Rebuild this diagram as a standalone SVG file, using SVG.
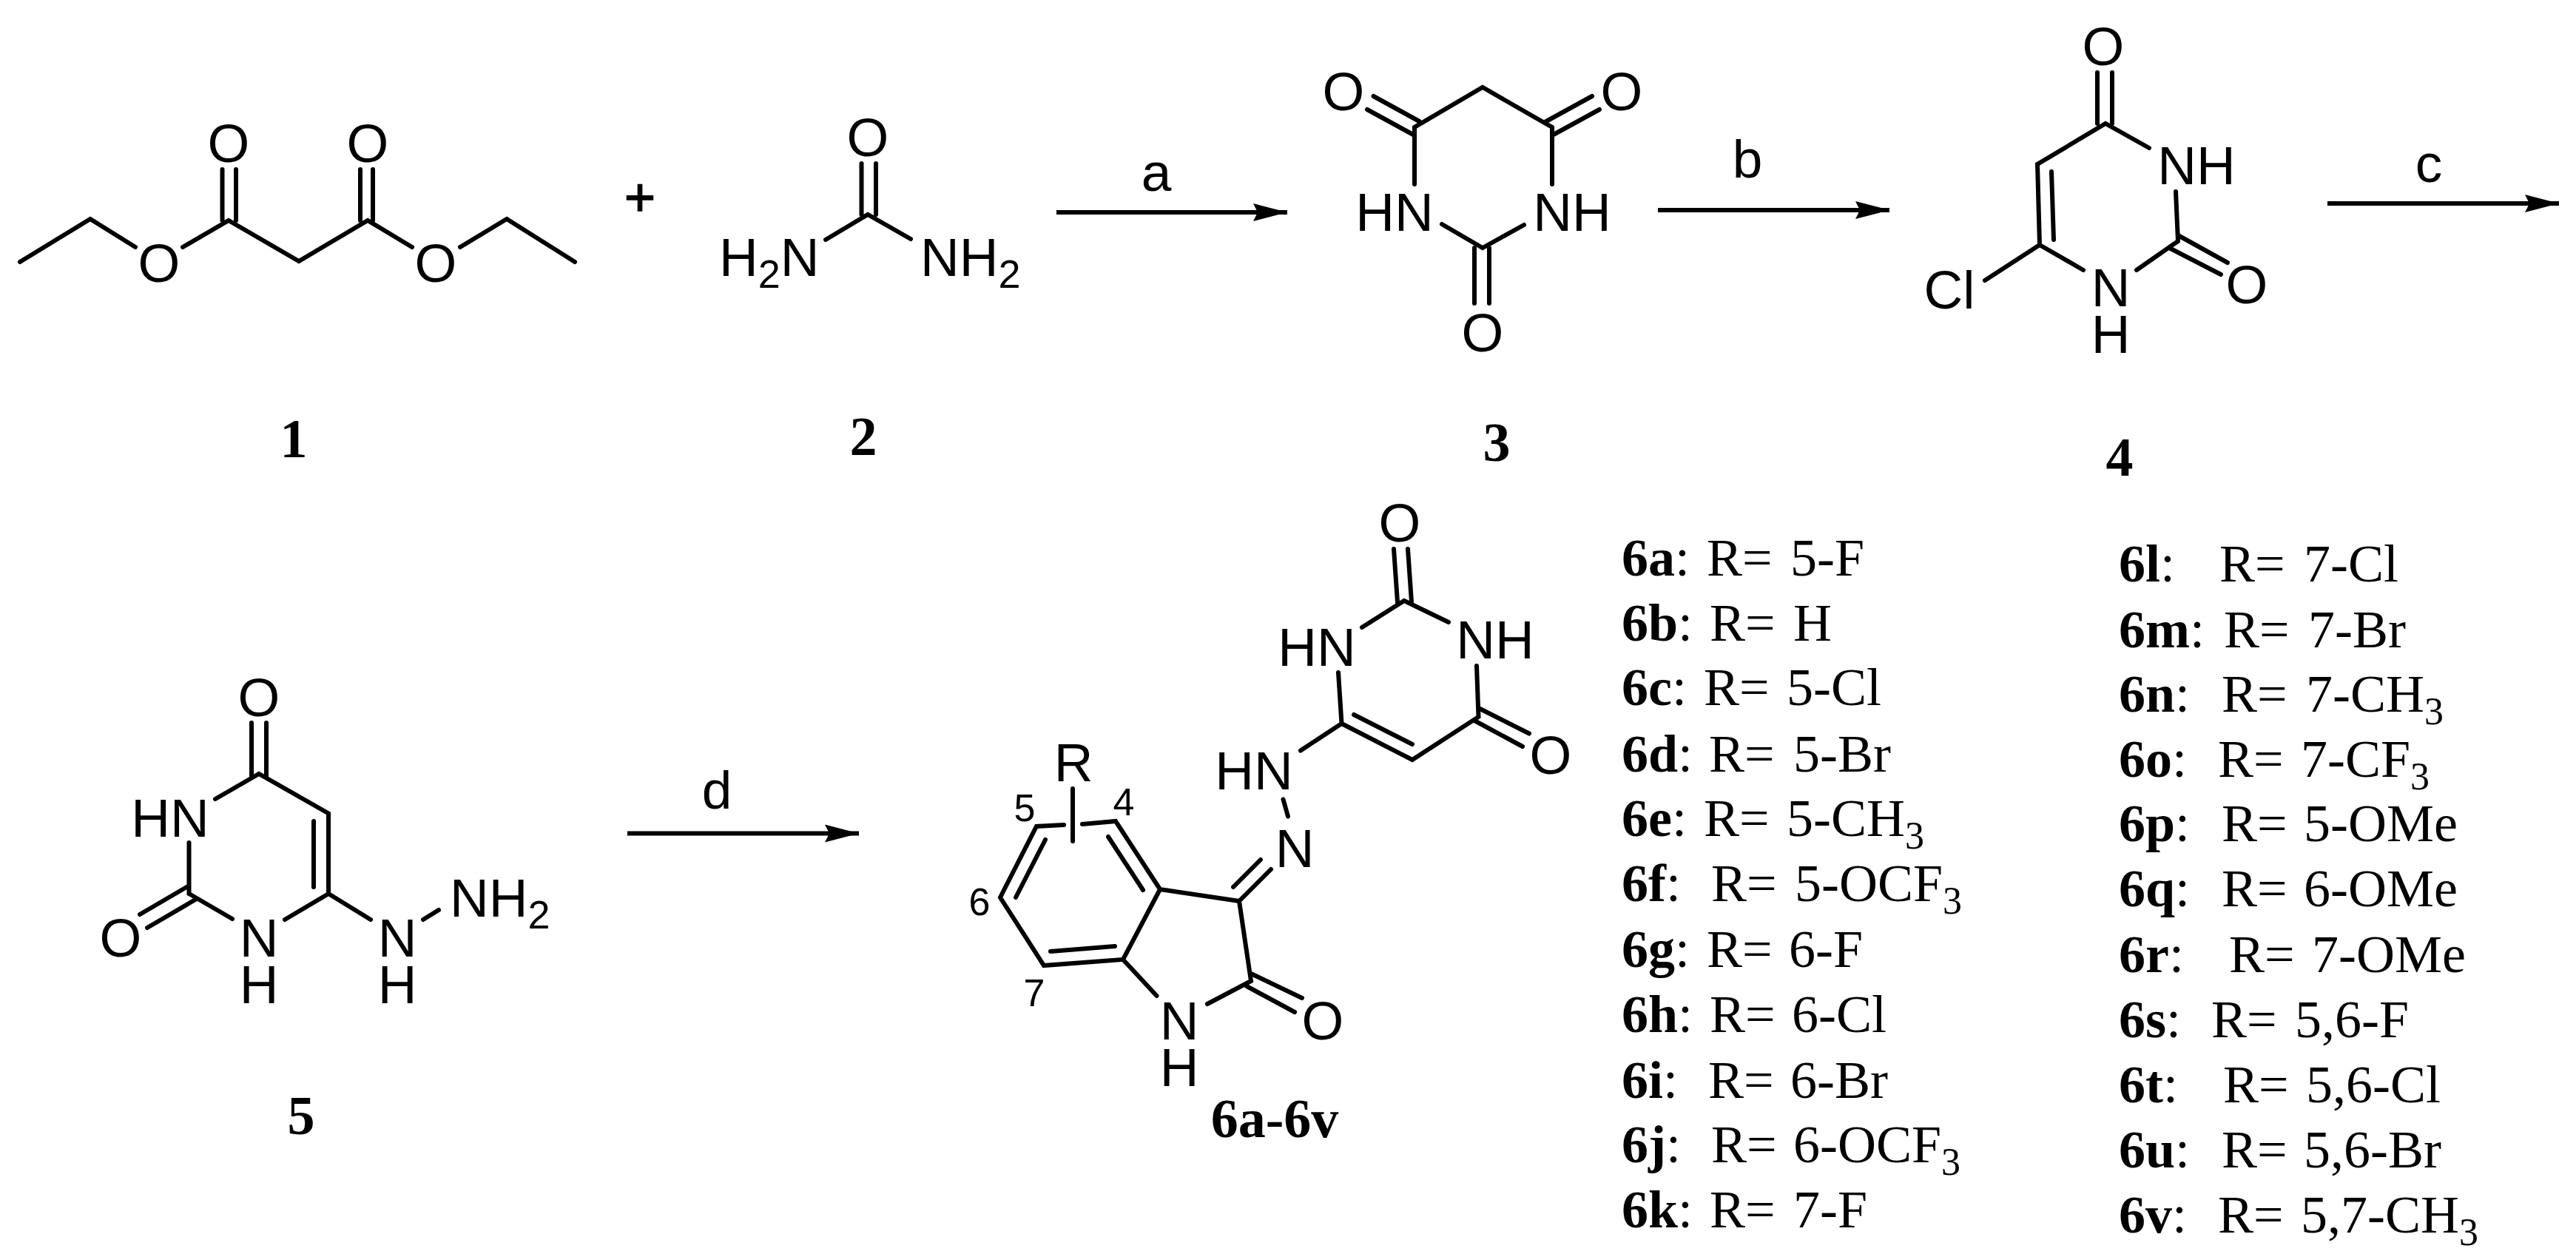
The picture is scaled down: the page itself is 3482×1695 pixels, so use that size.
<svg xmlns="http://www.w3.org/2000/svg" width="3482" height="1695" viewBox="0 0 3482 1695">
<style>
.b{fill:none;stroke:#000;stroke-width:6;stroke-linecap:round;stroke-linejoin:miter}
.ar{fill:none;stroke:#000;stroke-width:6}
text{fill:#000}
.t{font-family:"Liberation Sans",Arial,sans-serif;font-size:73px}
.m{text-anchor:middle}
.s{font-size:54px}
.n{font-family:"Liberation Sans",Arial,sans-serif;font-size:52px;text-anchor:middle}
.l{font-family:"Liberation Serif","Times New Roman",serif;font-size:74px;font-weight:bold;text-anchor:middle}
.r{font-family:"Liberation Serif","Times New Roman",serif;font-size:72px}
.r .k{font-weight:bold}
.r .u{font-size:52px}
</style>
<defs>
<marker id="head" markerUnits="userSpaceOnUse" markerWidth="50" markerHeight="30" refX="46" refY="15" orient="auto">
<polygon points="0,3 46,15 0,27 6,15" fill="#000"/>
</marker>
</defs>
<rect width="3482" height="1695" fill="#fff"/>

<g id="compound-1">
<path class="b" d="M27,354L122,296L183,334M247,334L309,298L404,353L497,298L557,334M622,334L685,296L777,354"/>
<path class="b" d="M300.5,229V298M319,229V298M487,229V298M504,229V298"/>
<text class="t m" x="309" y="219">O</text>
<text class="t m" x="497" y="219">O</text>
<text class="t m" x="215" y="381">O</text>
<text class="t m" x="589" y="381">O</text>
<text class="l" x="397" y="618">1</text>
</g>

<g id="plus">
<text x="865" y="291" font-family="Liberation Sans, sans-serif" font-size="72" text-anchor="middle" stroke="#000" stroke-width="1.5">+</text>
</g>

<g id="compound-2">
<path class="b" d="M1116,324L1173,290L1231,323M1164.5,221V290M1184,221V290"/>
<text class="t m" x="1173" y="211">O</text>
<text class="t" x="972" y="373">H<tspan class="s" dy="16">2</tspan><tspan dy="-16">N</tspan></text>
<text class="t" x="1244" y="373">NH<tspan class="s" dy="16">2</tspan></text>
<text class="l" x="1167" y="615">2</text>
</g>

<g id="compound-3">
<path class="b" d="M1912,249V172L2004,118L2098,172V249M1949,303L2004,335L2060,304"/>
<path class="b" d="M1856.5,130L1918.5,164M1848,148L1912,183M2152,130L2090,164M2162,148L2098,183M1993,335V410M2013,335V410"/>
<text class="t m" x="1816" y="149">O</text>
<text class="t m" x="2192" y="149">O</text>
<text class="t m" x="2004" y="475">O</text>
<text class="t m" x="1885" y="312">HN</text>
<text class="t m" x="2125" y="312">NH</text>
<text class="l" x="2023" y="623">3</text>
</g>

<g id="compound-4">
<path class="b" d="M2905,200L2846,167L2754,222L2757,331L2816,365M2888,365L2944,326L2941,259M2757,331L2683,379"/>
<path class="b" d="M2835,98V167M2855,98V167M2773,232L2776,324M2944,318L3011,355M2932,335L3002,371"/>
<text class="t m" x="2843" y="88">O</text>
<text class="t m" x="3037" y="410">O</text>
<text class="t m" x="2969" y="249">NH</text>
<text class="t m"><tspan x="2853" y="414">N</tspan><tspan x="2853" y="477">H</tspan></text>
<text class="t m" x="2635" y="417">Cl</text>
<text class="l" x="2865" y="643">4</text>
</g>

<g id="compound-5">
<path class="b" d="M291,1080L350,1046L444,1099.5V1208L385,1243M314,1242L255.5,1208V1139M444,1208L501,1243M572,1243L593,1230"/>
<path class="b" d="M340,977V1050M360,977V1050M424,1110V1199M254,1198L189,1236M264,1216L199,1254"/>
<text class="t m" x="350" y="968">O</text>
<text class="t m" x="163" y="1293">O</text>
<text class="t m" x="230" y="1131">HN</text>
<text class="t m"><tspan x="350" y="1293">N</tspan><tspan x="350" y="1356">H</tspan></text>
<text class="t m"><tspan x="537" y="1293">N</tspan><tspan x="537" y="1356">H</tspan></text>
<text class="t" x="608" y="1239">NH<tspan class="s" dy="16">2</tspan></text>
<text class="l" x="407" y="1533">5</text>
</g>

<g id="compound-6">
<path class="b" d="M1841,848L1898,812L1958,841M1809,909L1813.5,978L1909,1027L1998.5,969L1996,900M1813.5,978L1758,1014.5M1734.5,1080.5L1741,1103.5"/>
<path class="b" d="M1884,742L1889,814M1903,742L1908,814M1830,966L1909,1006M1998.5,957L2067,991.5M1993,974L2058,1009M1675,1218L1718,1175M1667,1199L1704,1162"/>
<path class="b" d="M1675,1218L1568,1202L1518,1297L1411,1305L1352,1213L1401,1117L1438,1115M1463,1114L1508,1110L1568,1202M1675,1218L1691,1326L1632,1357M1563.5,1346L1518,1297"/>
<path class="b" d="M1691,1316L1760,1349M1685,1333L1750,1368M1545,1203L1498,1131M1413,1135L1373,1213M1420,1286L1507,1279M1450,1066V1137"/>
<text class="t m" x="1892" y="732">O</text>
<text class="t m" x="2096" y="1046">O</text>
<text class="t m" x="1788" y="1405">O</text>
<text class="t m" x="1780" y="900">HN</text>
<text class="t m" x="2021" y="890">NH</text>
<text class="t m" x="1695" y="1067">HN</text>
<text class="t m" x="1750" y="1172">N</text>
<text class="t m"><tspan x="1594" y="1405">N</tspan><tspan x="1594" y="1468">H</tspan></text>
<text class="t m" x="1451" y="1056">R</text>
<text class="n" x="1385" y="1110">5</text>
<text class="n" x="1519" y="1102">4</text>
<text class="n" x="1324" y="1237">6</text>
<text class="n" x="1398" y="1360">7</text>
<text class="l" x="1723" y="1537">6a-6v</text>
</g>

<g id="connectors">
<path class="ar" d="M1428,287H1740" marker-end="url(#head)"/>
<path class="ar" d="M2241,284H2554" marker-end="url(#head)"/>
<path class="ar" d="M3146,275H3459" marker-end="url(#head)"/>
<path class="ar" d="M848,1126.5H1161" marker-end="url(#head)"/>
<text class="t m" x="1563" y="258">a</text>
<text class="t m" x="2362" y="240">b</text>
<text class="t m" x="3283" y="246">c</text>
<text class="t m" x="969" y="1093">d</text>
</g>

<g id="legend-left">
<text class="r" x="2192" y="778"><tspan class="k">6a</tspan>: <tspan x="2307">R= </tspan><tspan x="2420">5-F</tspan></text>
<text class="r" x="2192" y="866"><tspan class="k">6b</tspan>: <tspan x="2311">R= </tspan><tspan x="2424">H</tspan></text>
<text class="r" x="2192" y="953"><tspan class="k">6c</tspan>: <tspan x="2303">R= </tspan><tspan x="2415">5-Cl</tspan></text>
<text class="r" x="2192" y="1043"><tspan class="k">6d</tspan>: <tspan x="2310">R= </tspan><tspan x="2424">5-Br</tspan></text>
<text class="r" x="2192" y="1130"><tspan class="k">6e</tspan>: <tspan x="2303">R= </tspan><tspan x="2415">5-CH</tspan><tspan class="u" dy="17">3</tspan></text>
<text class="r" x="2192" y="1218"><tspan class="k">6f</tspan>: <tspan x="2313">R= </tspan><tspan x="2426">5-OCF</tspan><tspan class="u" dy="17">3</tspan></text>
<text class="r" x="2192" y="1307"><tspan class="k">6g</tspan>: <tspan x="2307">R= </tspan><tspan x="2418">6-F</tspan></text>
<text class="r" x="2192" y="1395"><tspan class="k">6h</tspan>: <tspan x="2311">R= </tspan><tspan x="2422">6-Cl</tspan></text>
<text class="r" x="2192" y="1484"><tspan class="k">6i</tspan>: <tspan x="2309">R= </tspan><tspan x="2420">6-Br</tspan></text>
<text class="r" x="2192" y="1571"><tspan class="k">6j</tspan>: <tspan x="2313">R= </tspan><tspan x="2424">6-OCF</tspan><tspan class="u" dy="17">3</tspan></text>
<text class="r" x="2192" y="1659"><tspan class="k">6k</tspan>: <tspan x="2311">R= </tspan><tspan x="2424">7-F</tspan></text>
</g>

<g id="legend-right">
<text class="r" x="2864" y="786"><tspan class="k">6l</tspan>: <tspan x="3000">R= </tspan><tspan x="3114">7-Cl</tspan></text>
<text class="r" x="2864" y="875"><tspan class="k">6m</tspan>: <tspan x="3006">R= </tspan><tspan x="3120">7-Br</tspan></text>
<text class="r" x="2864" y="962"><tspan class="k">6n</tspan>: <tspan x="3003">R= </tspan><tspan x="3117">7-CH</tspan><tspan class="u" dy="17">3</tspan></text>
<text class="r" x="2864" y="1050"><tspan class="k">6o</tspan>: <tspan x="2998">R= </tspan><tspan x="3110">7-CF</tspan><tspan class="u" dy="17">3</tspan></text>
<text class="r" x="2864" y="1137"><tspan class="k">6p</tspan>: <tspan x="3003">R= </tspan><tspan x="3114">5-OMe</tspan></text>
<text class="r" x="2864" y="1225"><tspan class="k">6q</tspan>: <tspan x="3003">R= </tspan><tspan x="3114">6-OMe</tspan></text>
<text class="r" x="2864" y="1314"><tspan class="k">6r</tspan>: <tspan x="3013">R= </tspan><tspan x="3125">7-OMe</tspan></text>
<text class="r" x="2864" y="1402"><tspan class="k">6s</tspan>: <tspan x="2989">R= </tspan><tspan x="3102">5,6-F</tspan></text>
<text class="r" x="2864" y="1490"><tspan class="k">6t</tspan>: <tspan x="3005">R= </tspan><tspan x="3117">5,6-Cl</tspan></text>
<text class="r" x="2864" y="1578"><tspan class="k">6u</tspan>: <tspan x="3003">R= </tspan><tspan x="3114">5,6-Br</tspan></text>
<text class="r" x="2864" y="1666"><tspan class="k">6v</tspan>: <tspan x="2998">R= </tspan><tspan x="3110">5,7-CH</tspan><tspan class="u" dy="17">3</tspan></text>
</g>
</svg>
